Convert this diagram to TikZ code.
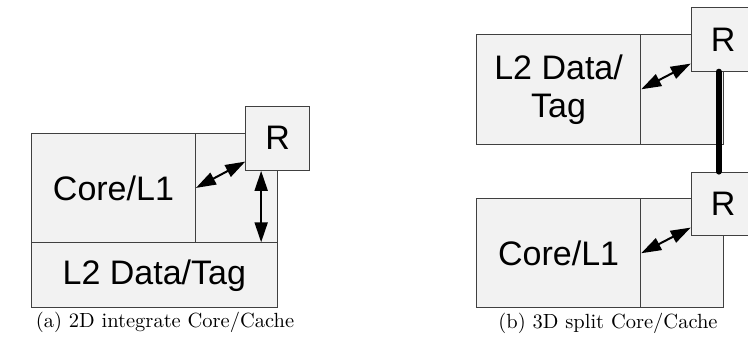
\documentclass[tikz,border=0pt]{standalone}
\usepackage{fontspec}
\newfontfamily\arialf{Liberation Sans}
\newfontfamily\capfont[Extension=.otf]{lmroman10-regular}
\usetikzlibrary{arrows.meta,calc}
\definecolor{boxfill}{HTML}{F2F2F2}
\definecolor{boxline}{HTML}{404040}
\begin{document}
\begin{tikzpicture}[x=1pt,y=-1pt,
  cell/.style={draw=boxline,fill=boxfill,line width=0.9pt,inner sep=0pt,anchor=north west,
    font=\arialf\fontsize{34}{38}\selectfont,align=center},
  link/.style={line width=2pt,{Triangle[length=20pt,width=13pt]}-{Triangle[length=20pt,width=13pt]}},
  captext/.style={font=\capfont\fontsize{20.5}{24}\selectfont}]
\useasboundingbox (0,0) rectangle (748,347);
% panel (a)
\node[cell,minimum width=164pt,minimum height=109.6pt] (coreA) at (31,132.7) {Core/L1};
\node[cell,minimum width=81.7pt,minimum height=109.6pt] (sideA) at (195,132.7) {};
\node[cell,minimum width=245.7pt,minimum height=65pt] (l2A) at (31,242.3) {L2 Data/Tag};
\node[cell,minimum width=64pt,minimum height=64.3pt] (rA) at (245.3,105.7) {R};
\coordinate (vA) at ($(rA.south)+(-16.6,0)$);
\draw[link] (coreA.east) -- ($(rA.south west)+(0,-9.3)$);
\draw[link] (vA) -- (vA |- l2A.north);
\node[captext] (capA) at (165,322) {(a) 2D integrate Core/Cache};
% panel (b)
\node[cell,minimum width=164.3pt,minimum height=110.3pt] (l2B) at (476,33.7) {L2 Data/\\Tag};
\node[cell,minimum width=82.4pt,minimum height=110.3pt] (sideB1) at (640.3,33.7) {};
\node[cell,minimum width=64pt,minimum height=63.4pt] (rB1) at (690.7,7.3) {R};
\node[cell,minimum width=164.3pt,minimum height=109pt] (coreB) at (476,198.3) {Core/L1};
\node[cell,minimum width=82.4pt,minimum height=109pt] (sideB2) at (640.3,198.3) {};
\node[cell,minimum width=64pt,minimum height=63.3pt] (rB2) at (690.7,171.7) {R};
\coordinate (tB) at ($(rB1.south)+(-4.4,0)$);
\draw[line width=5.8pt,line cap=round] (tB) -- (tB |- rB2.north);
\draw[link] (l2B.east) -- ($(rB1.south west)+(0,-8)$);
\draw[link] (coreB.east) -- ($(rB2.south west)+(0,-8.3)$);
\node[captext] (capB) at (608,323) {(b) 3D split Core/Cache};
\end{tikzpicture}
\end{document}
